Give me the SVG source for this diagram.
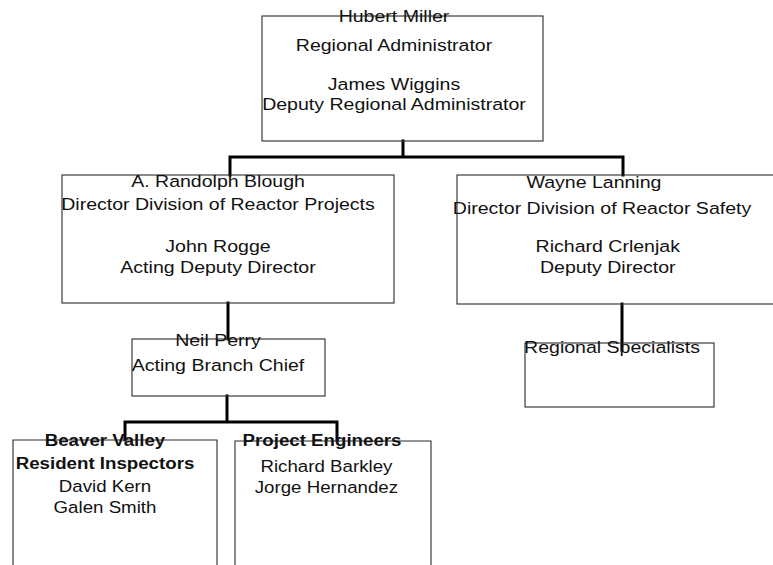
<svg xmlns="http://www.w3.org/2000/svg" width="773" height="565" viewBox="0 0 773 565">
  <style>
    .box { fill: none; stroke: #2a2a2a; stroke-width: 1.1; }
    .wire { fill: none; stroke: #000; stroke-width: 3; stroke-linecap: square; }
    text { font-family: "Liberation Sans", Arial, sans-serif; font-size: 17px; fill: #111; text-anchor: middle; }
    .b { font-weight: bold; }
  </style>
  <rect width="773" height="565" fill="#fff"/>

  <!-- connectors -->
  <g id="connectors">
    <path class="wire" d="M403 141 V157 M230 157 H623 M230 157 V175 M623 157 V175"/>
    <path class="wire" d="M228 303 V339"/>
    <path class="wire" d="M622 304 V350"/>
    <path class="wire" d="M227 396 V422 M125 422 H337 M125 422 V440 M337 422 V440"/>
  </g>

  <!-- Regional Administrator -->
  <g id="regional-administrator">
    <rect class="box" x="262" y="16" width="281" height="125"/>
    <g transform="translate(394 0) scale(1.15 1)">
      <text x="0" y="22">Hubert Miller</text>
      <text x="0" y="51">Regional Administrator</text>
      <text x="0" y="90">James Wiggins</text>
      <text x="0" y="110">Deputy Regional Administrator</text>
    </g>
  </g>

  <!-- Division of Reactor Projects -->
  <g id="reactor-projects">
    <rect class="box" x="62" y="175" width="332" height="128"/>
    <g transform="translate(218 0) scale(1.15 1)">
      <text x="0" y="187">A. Randolph Blough</text>
      <text x="0" y="210">Director Division of Reactor Projects</text>
      <text x="0" y="252">John Rogge</text>
      <text x="0" y="273">Acting Deputy Director</text>
    </g>
  </g>

  <!-- Division of Reactor Safety -->
  <g id="reactor-safety">
    <rect class="box" x="457" y="175" width="330" height="129"/>
    <g transform="translate(602 0) scale(1.15 1)">
      <text x="-7" y="188">Wayne Lanning</text>
      <text x="0" y="214">Director Division of Reactor Safety</text>
      <text x="5" y="252">Richard Crlenjak</text>
      <text x="5" y="273">Deputy Director</text>
    </g>
  </g>

  <!-- Branch -->
  <g id="branch">
    <rect class="box" x="132" y="339" width="193" height="57"/>
    <g transform="translate(218 0) scale(1.15 1)">
      <text x="0" y="346">Neil Perry</text>
      <text x="0" y="371">Acting Branch Chief</text>
    </g>
  </g>

  <!-- Regional Specialists -->
  <g id="regional-specialists">
    <rect class="box" x="525" y="343" width="189" height="64"/>
    <g transform="translate(612 0) scale(1.15 1)">
      <text x="0" y="353">Regional Specialists</text>
    </g>
  </g>

  <!-- Resident Inspectors -->
  <g id="resident-inspectors">
    <path class="box" d="M13 575 V440 H217 V575"/>
    <g transform="translate(105 0) scale(1.1 1)">
      <text class="b" x="0" y="446">Beaver Valley</text>
      <text class="b" x="0" y="469">Resident Inspectors</text>
      <text x="0" y="492">David Kern</text>
      <text x="0" y="513">Galen Smith</text>
    </g>
  </g>

  <!-- Project Engineers -->
  <g id="project-engineers">
    <path class="box" d="M235 575 V441 H431 V575"/>
    <g transform="translate(322 0) scale(1.1 1)">
      <text class="b" x="0" y="446">Project Engineers</text>
      <text x="4" y="472">Richard Barkley</text>
      <text x="4" y="493">Jorge Hernandez</text>
    </g>
  </g>
</svg>
